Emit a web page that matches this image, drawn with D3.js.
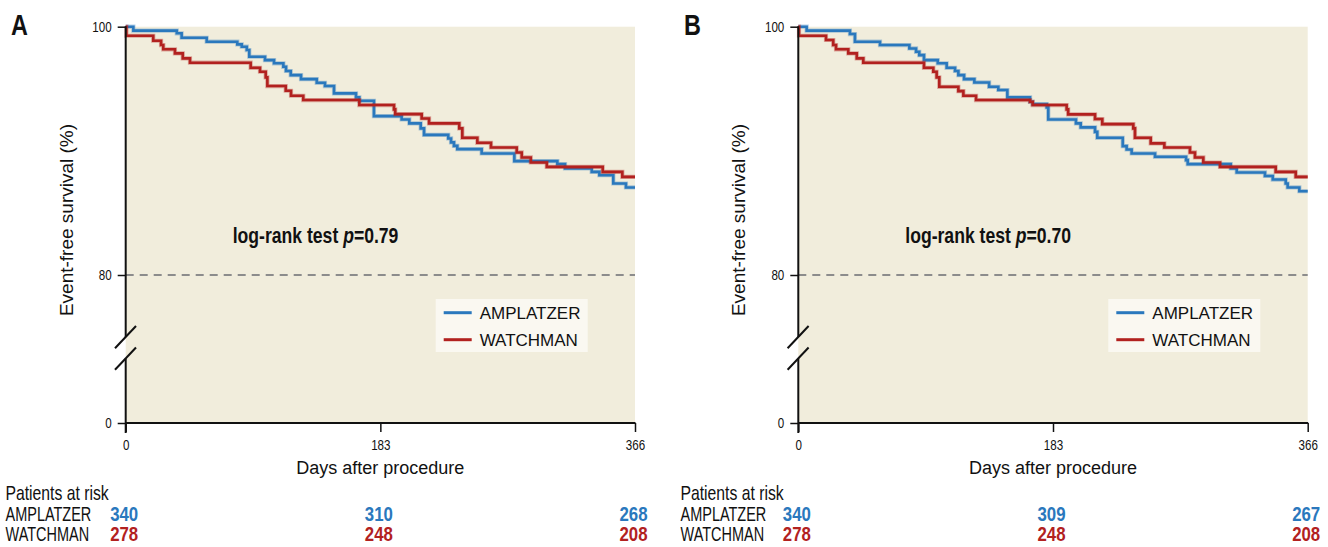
<!DOCTYPE html>
<html><head><meta charset="utf-8">
<script src="https://cdn.jsdelivr.net/npm/d3@7"></script>
<style>
body{margin:0;background:#fff;}
svg text{fill:#111;font-family:"Liberation Sans",Arial,sans-serif;}
</style></head><body>
<svg id="chart" width="1328" height="547"></svg>
<script>
// ---------- data ----------
const dayTicks = [0, 183, 366];
const survTicks = [0, 80, 100];
const seriesNames = ["AMPLATZER", "WATCHMAN"];
const panelLabels = ["A", "B"];
const pValues = ["0.79", "0.70"];

// Panel A – AMPLATZER
const ampA_days = [0, 5.5, 36.7, 40.2, 58.2, 80.2, 83.4, 87.0, 88.8, 100.1, 106.6, 113.3, 115.2, 118.6, 126.0, 137.3, 143.2, 149.7, 165.5, 167.9, 178.4, 198.3, 203.8, 212.0, 214.4, 231.8, 233.8, 235.9, 238.3, 255.8, 279.3, 310.2, 315.7, 334.9, 340.4, 350.4, 359.5];
const ampA_surv = [100, 99.68, 99.47, 99.11, 98.79, 98.58, 98.39, 98.12, 97.58, 97.31, 97.05, 96.77, 96.43, 96.10, 95.78, 95.48, 95.22, 94.63, 94.31, 94.03, 92.80, 92.53, 92.21, 91.81, 91.29, 91.00, 90.68, 90.40, 90.14, 89.79, 89.17, 88.93, 88.58, 88.31, 88.04, 87.37, 87.05];
// Panel A – WATCHMAN
const watA_days = [0, 0.5, 19.8, 25.4, 27.0, 35.4, 41.0, 46.2, 89.8, 96.5, 100.6, 101.8, 115.0, 118.8, 127.6, 167.9, 192.8, 193.7, 212.7, 218.0, 239.7, 241.9, 252.7, 262.5, 281.0, 284.6, 291.1, 302.6, 342.8, 356.9];
const watA_surv = [100, 99.27, 98.87, 98.52, 98.18, 97.85, 97.45, 97.10, 96.69, 96.37, 95.92, 95.22, 94.84, 94.44, 94.09, 93.69, 93.34, 92.96, 92.61, 92.21, 91.81, 91.05, 90.65, 90.27, 89.87, 89.47, 89.06, 88.71, 88.31, 87.90];
// Panel B – AMPLATZER
const ampB_days = [0, 6.0, 37.1, 40.7, 58.7, 79.8, 84.6, 86.9, 90.3, 100.2, 106.6, 112.6, 115.0, 119.1, 126.5, 137.1, 143.7, 150.2, 166.5, 168.4, 178.5, 179.6, 199.5, 202.9, 213.2, 214.8, 233.1, 235.9, 239.5, 256.3, 278.6, 279.8, 310.7, 315.0, 335.3, 340.9, 350.2, 351.6, 360.0];
const ampB_surv = [100, 99.68, 99.41, 98.79, 98.52, 98.25, 97.98, 97.71, 97.31, 97.05, 96.69, 96.43, 96.10, 95.78, 95.51, 95.16, 94.90, 94.31, 93.95, 93.77, 93.50, 92.53, 92.21, 91.89, 91.53, 91.05, 90.38, 90.11, 89.79, 89.52, 89.25, 88.93, 88.58, 88.26, 87.98, 87.69, 87.37, 87.05, 86.75];
// Panel B – WATCHMAN
const watB_days = [0, 0.5, 19.9, 25.1, 27.1, 35.9, 42.0, 46.7, 90.3, 97.0, 99.4, 101.3, 115.0, 118.6, 127.7, 166.5, 168.4, 192.8, 193.9, 213.2, 218.4, 240.7, 241.9, 253.2, 263.0, 281.4, 285.0, 291.0, 303.0, 343.0, 357.4];
const watB_surv = [100, 99.27, 98.93, 98.52, 98.18, 97.85, 97.45, 97.10, 96.69, 96.37, 95.92, 95.16, 94.81, 94.44, 94.09, 93.95, 93.69, 93.34, 92.94, 92.56, 92.15, 91.81, 91.05, 90.60, 90.27, 89.87, 89.47, 89.06, 88.71, 88.31, 87.90];

// Patients at risk at days 0, 183, 366
const riskA_amp = [340, 310, 268];
const riskA_wat = [278, 248, 208];
const riskB_amp = [340, 309, 267];
const riskB_wat = [278, 248, 208];

// ---------- layout / style ----------
const colors = ["#2a78bd", "#b2211f"];
const bgFill = "#f1eddc";
const panels = [
  {left: 125.7, right: 635, tableX: 5.5, labelX: 11, series: [[ampA_days, ampA_surv], [watA_days, watA_surv]], risk: [riskA_amp, riskA_wat]},
  {left: 798.3, right: 1307.7, tableX: 680.5, labelX: 684, series: [[ampB_days, ampB_surv], [watB_days, watB_surv]], risk: [riskB_amp, riskB_wat]}
];
const yTop = 26.7, y80 = 275, yZero = 423;

const svg = d3.select("#chart");

function ctext(sel, x, y, fs, sx, anchor) {
  return sel.append("text")
    .attr("transform", `translate(${x},${y}) scale(${sx},1)`)
    .attr("font-size", fs)
    .attr("text-anchor", anchor || "start");
}
function condenseAxisText(axisSel, sx) {
  axisSel.selectAll("text").each(function () {
    const t = d3.select(this);
    const xv = +(t.attr("x") || 0);
    t.attr("x", xv / sx).attr("transform", `scale(${sx},1)`)
     .attr("font-size", 14.5).style("fill", "#111").attr("font-family", null);
  });
}

panels.forEach((p, i) => {
  const g = svg.append("g");
  const x = d3.scaleLinear().domain([0, 366]).range([p.left, p.right]);
  const y = d3.scaleLinear().domain([0, 80, 100]).range([yZero, y80, yTop]);

  // background
  g.append("rect").attr("x", p.left).attr("y", yTop).attr("width", p.right - p.left).attr("height", yZero - yTop).attr("fill", bgFill);

  // 80% reference dashed line
  g.append("line").attr("x1", p.left).attr("x2", p.right).attr("y1", y(80)).attr("y2", y(80))
    .attr("stroke", "#8c8c8c").attr("stroke-width", 2).attr("stroke-dasharray", "8,6");

  // curves
  const line = d3.line().x(d => x(d[0])).y(d => y(d[1])).curve(d3.curveStepAfter);
  p.series.forEach((s, k) => {
    const pts = s[0].map((d, j) => [d, s[1][j]]);
    pts.push([366, s[1][s[1].length - 1]]);
    g.append("path").datum(pts).attr("d", line).attr("fill", "none")
      .attr("stroke", colors[k]).attr("stroke-opacity", 0.35).attr("stroke-width", 4.2);
    g.append("path").datum(pts).attr("d", line).attr("fill", "none")
      .attr("stroke", colors[k]).attr("stroke-width", 2.6);
  });

  // y axis
  const ya = g.append("g").attr("transform", `translate(${p.left},0)`)
    .call(d3.axisLeft(y).tickValues(survTicks).tickSize(8).tickPadding(6));
  ya.select(".domain").remove();
  ya.selectAll("line").attr("stroke", "#111").attr("stroke-width", 1.5);
  condenseAxisText(ya, 0.8);
  // axis line with break
  const brkA = 337, brkB = 358.5;
  g.append("line").attr("x1", p.left).attr("x2", p.left).attr("y1", yTop - 0.5).attr("y2", brkA).attr("stroke", "#111").attr("stroke-width", 2);
  g.append("line").attr("x1", p.left).attr("x2", p.left).attr("y1", brkB).attr("y2", yZero + 10).attr("stroke", "#111").attr("stroke-width", 2);
  [brkA, brkB].forEach(c => {
    g.append("line").attr("x1", p.left - 10.7).attr("y1", c + 11.3).attr("x2", p.left + 10.3).attr("y2", c - 11)
      .attr("stroke", "#111").attr("stroke-width", 2);
  });

  // x axis
  const xa = g.append("g").attr("transform", `translate(0,${yZero})`)
    .call(d3.axisBottom(x).tickValues(dayTicks).tickSize(9).tickPadding(8));
  xa.select(".domain").remove();
  xa.selectAll("line").attr("stroke", "#111").attr("stroke-width", 1.5);
  condenseAxisText(xa, 0.8);
  g.append("line").attr("x1", p.left).attr("x2", p.right + 0.5).attr("y1", yZero).attr("y2", yZero).attr("stroke", "#111").attr("stroke-width", 2);

  // titles
  g.append("text").attr("transform", `translate(${p.left - 53},220) rotate(-90)`)
    .attr("text-anchor", "middle").attr("font-size", 19).text("Event-free survival (%)");
  g.append("text").attr("x", x(183)).attr("y", 474)
    .attr("text-anchor", "middle").attr("font-size", 18).text("Days after procedure");

  // panel label
  ctext(g, p.labelX, 35, 30, 0.78).attr("font-weight", "bold").text(panelLabels[i]);

  // log-rank
  const lr = ctext(g, p.left + 107, 243, 22, 0.8).attr("font-weight", "bold");
  lr.append("tspan").text("log-rank test ");
  lr.append("tspan").attr("font-style", "italic").text("p");
  lr.append("tspan").text("=" + pValues[i]);

  // legend
  const lx = p.left + 310, ly = 299;
  g.append("rect").attr("x", lx).attr("y", ly).attr("width", 152).attr("height", 53).attr("fill", "#faf8f1");
  seriesNames.forEach((n, k) => {
    const yy = ly + 13.7 + k * 27;
    g.append("line").attr("x1", lx + 8).attr("x2", lx + 36).attr("y1", yy).attr("y2", yy)
      .attr("stroke", colors[k]).attr("stroke-width", 3);
    g.append("text").attr("x", lx + 44).attr("y", yy + 6.5)
      .attr("font-size", 17).text(n);
  });

  // patients at risk table
  ctext(g, p.tableX, 500, 21, 0.75).text("Patients at risk");
  seriesNames.forEach((n, k) => {
    const yy = 520.5 + k * 20.5;
    ctext(g, p.tableX, yy, 21, 0.69).text(n);
    p.risk[k].forEach((d, j) => {
      ctext(g, x(dayTicks[j]) - 1.5, yy, 21, 0.8, "middle").attr("font-weight", "bold").style("fill", colors[k]).text(d);
    });
  });
});
</script>
</body></html>
